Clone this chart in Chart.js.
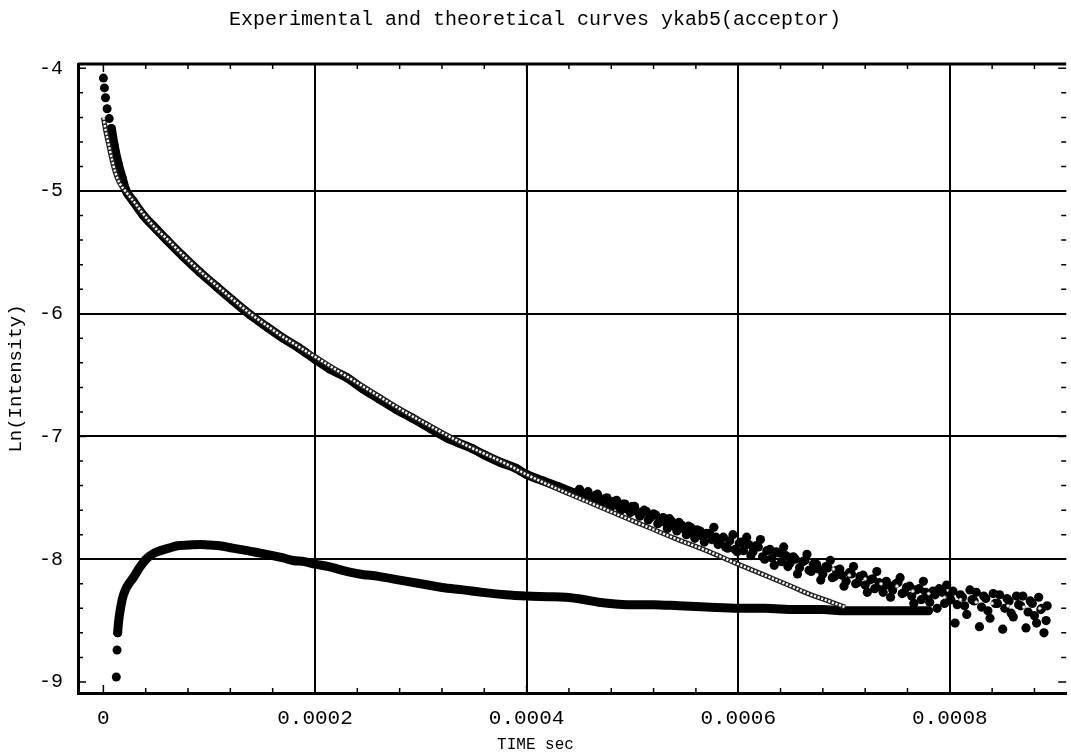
<!DOCTYPE html>
<html>
<head>
<meta charset="utf-8">
<title>ykab5 acceptor</title>
<script src="https://cdn.jsdelivr.net/npm/chart.js@4.4.0/dist/chart.umd.min.js"></script>
<style>
  html, body { margin: 0; padding: 0; background: #fff; }
</style>
</head>
<body>
<canvas id="myChart" width="1071" height="755"></canvas>
<script>
// ln(intensity) vs time for ykab5 (acceptor)

// experimental decay, smooth part (sec / ln I)
var expTime = [0, 1e-6, 2e-6, 3.5e-6, 5.5e-6, 7.5e-6, 1.0e-5, 1.4e-5, 1.8e-5, 2.1e-5,
  2.8e-5, 3.8e-5, 5.0e-5, 6.0e-5, 7.5e-5, 9.1e-5, 1.07e-4, 1.22e-4, 1.39e-4, 1.55e-4,
  1.70e-4, 1.85e-4, 2.0e-4, 2.14e-4, 2.30e-4, 2.45e-4, 2.60e-4, 2.77e-4, 2.92e-4, 3.10e-4,
  3.27e-4, 3.35e-4, 3.49e-4, 3.60e-4, 3.75e-4, 3.90e-4, 4.0e-4, 4.15e-4, 4.30e-4, 4.45e-4];
var expLn = [-4.08, -4.16, -4.24, -4.33, -4.41, -4.49, -4.62, -4.78, -4.90, -4.99,
  -5.08, -5.20, -5.31, -5.40, -5.53, -5.66, -5.78, -5.89, -6.01, -6.11,
  -6.20, -6.28, -6.37, -6.45, -6.52, -6.61, -6.69, -6.78, -6.85, -6.94,
  -7.02, -7.05, -7.10, -7.15, -7.21, -7.26, -7.31, -7.36, -7.41, -7.46];

// experimental decay, noisy tail (two passes of reading)
var tailTime = [4.50e-4, 4.54e-4, 4.58e-4, 4.63e-4, 4.67e-4, 4.71e-4, 4.76e-4, 4.80e-4, 4.85e-4, 4.89e-4,
  4.93e-4, 4.98e-4, 5.02e-4, 5.07e-4, 5.11e-4, 5.15e-4, 5.20e-4, 5.24e-4, 5.29e-4, 5.33e-4,
  5.37e-4, 5.42e-4, 5.46e-4, 5.51e-4, 5.55e-4, 5.59e-4, 5.64e-4, 5.68e-4, 5.73e-4, 5.77e-4,
  5.81e-4, 5.86e-4, 5.90e-4, 5.95e-4, 5.99e-4, 6.03e-4, 6.08e-4, 6.12e-4, 6.17e-4, 6.21e-4,
  6.25e-4, 6.30e-4, 6.34e-4, 6.39e-4, 6.43e-4, 6.47e-4, 6.52e-4, 6.56e-4, 6.61e-4, 6.65e-4,
  6.69e-4, 6.74e-4, 6.78e-4, 6.83e-4, 6.87e-4, 6.91e-4, 6.96e-4, 7.00e-4, 7.05e-4, 7.09e-4,
  7.13e-4, 7.18e-4, 7.22e-4, 7.27e-4, 7.31e-4, 7.35e-4, 7.40e-4, 7.44e-4, 7.49e-4, 7.53e-4,
  7.57e-4, 7.62e-4, 7.66e-4, 7.71e-4, 7.75e-4, 7.79e-4, 7.84e-4, 7.88e-4, 7.93e-4, 7.97e-4,
  8.01e-4, 8.05e-4, 8.10e-4, 8.14e-4, 8.19e-4, 8.23e-4, 8.28e-4, 8.32e-4, 8.36e-4, 8.41e-4,
  8.45e-4, 8.50e-4, 8.54e-4, 8.58e-4, 8.63e-4, 8.67e-4, 8.72e-4, 8.76e-4, 8.80e-4, 8.84e-4,
  8.87e-4, 8.89e-4, 8.91e-4, 8.92e-4];
var tailLn = [-7.43, -7.49, -7.45, -7.52, -7.47, -7.55, -7.50, -7.57, -7.52, -7.60,
  -7.55, -7.62, -7.57, -7.65, -7.60, -7.68, -7.63, -7.71, -7.66, -7.75,
  -7.69, -7.77, -7.72, -7.80, -7.74, -7.83, -7.77, -7.86, -7.79, -7.74,
  -7.88, -7.82, -7.91, -7.80, -7.94, -7.86, -7.82, -7.97, -7.89, -7.84,
  -8.00, -7.92, -8.05, -7.95, -7.90, -8.06, -7.98, -8.12, -8.02, -7.96,
  -8.10, -8.04, -8.17, -8.06, -8.01, -8.14, -8.08, -8.22, -8.11, -8.06,
  -8.19, -8.13, -8.27, -8.16, -8.10, -8.23, -8.18, -8.31, -8.20, -8.15,
  -8.27, -8.22, -8.36, -8.24, -8.18, -8.30, -8.26, -8.40, -8.27, -8.21,
  -8.33, -8.52, -8.29, -8.38, -8.25, -8.34, -8.55, -8.30, -8.42, -8.28,
  -8.36, -8.57, -8.32, -8.44, -8.30, -8.38, -8.56, -8.34, -8.46, -8.31,
  -8.40, -8.60, -8.50, -8.38];
var tail2Time = [4.52e-4, 4.56e-4, 4.60e-4, 4.65e-4, 4.69e-4, 4.73e-4, 4.78e-4, 4.82e-4, 4.87e-4, 4.91e-4,
  4.95e-4, 5.00e-4, 5.04e-4, 5.09e-4, 5.13e-4, 5.17e-4, 5.22e-4, 5.26e-4, 5.31e-4, 5.35e-4,
  5.39e-4, 5.44e-4, 5.48e-4, 5.53e-4, 5.57e-4, 5.61e-4, 5.66e-4, 5.70e-4, 5.75e-4, 5.79e-4,
  5.83e-4, 5.88e-4, 5.92e-4, 5.97e-4, 6.01e-4, 6.05e-4, 6.10e-4, 6.14e-4, 6.19e-4, 6.23e-4,
  6.27e-4, 6.32e-4, 6.36e-4, 6.41e-4, 6.45e-4, 6.49e-4, 6.54e-4, 6.58e-4, 6.63e-4, 6.67e-4,
  6.71e-4, 6.76e-4, 6.80e-4, 6.85e-4, 6.89e-4, 6.93e-4, 6.98e-4, 7.02e-4, 7.07e-4, 7.11e-4,
  7.15e-4, 7.20e-4, 7.24e-4, 7.29e-4, 7.33e-4, 7.37e-4, 7.42e-4, 7.46e-4, 7.51e-4, 7.55e-4,
  7.59e-4, 7.64e-4, 7.68e-4, 7.73e-4, 7.77e-4, 7.81e-4, 7.86e-4, 7.90e-4, 7.95e-4, 7.99e-4,
  8.03e-4, 8.07e-4, 8.12e-4, 8.16e-4, 8.21e-4, 8.25e-4, 8.30e-4, 8.34e-4, 8.38e-4, 8.43e-4,
  8.47e-4, 8.52e-4, 8.56e-4, 8.60e-4, 8.65e-4, 8.69e-4, 8.74e-4, 8.78e-4, 8.82e-4, 8.86e-4];
var tail2Ln = [-7.46, -7.48, -7.50, -7.48, -7.53, -7.51, -7.55, -7.53, -7.57, -7.55,
  -7.59, -7.57, -7.61, -7.63, -7.61, -7.66, -7.64, -7.68, -7.70, -7.67,
  -7.73, -7.70, -7.75, -7.73, -7.79, -7.76, -7.81, -7.79, -7.84, -7.82,
  -7.85, -7.90, -7.85, -7.92, -7.87, -7.93, -7.88, -7.94, -7.90, -7.98,
  -7.93, -7.99, -7.94, -8.02, -7.97, -8.03, -8.00, -8.07, -8.01, -8.09,
  -8.04, -8.08, -8.12, -8.07, -8.15, -8.09, -8.13, -8.18, -8.12, -8.20,
  -8.14, -8.21, -8.17, -8.24, -8.19, -8.27, -8.21, -8.25, -8.19, -8.28,
  -8.23, -8.30, -8.25, -8.33, -8.27, -8.35, -8.29, -8.24, -8.36, -8.30,
  -8.26, -8.37, -8.31, -8.45, -8.33, -8.27, -8.39, -8.32, -8.48, -8.36,
  -8.29, -8.40, -8.34, -8.47, -8.37, -8.30, -8.43, -8.36, -8.52, -8.41];

// theoretical curve
var theoTime = [0, 2e-6, 5e-6, 8e-6, 1.1e-5, 1.5e-5, 2.26e-5, 3.0e-5, 3.8e-5, 5.0e-5,
  6.0e-5, 7.5e-5, 9.1e-5, 1.07e-4, 1.22e-4, 1.39e-4, 1.55e-4, 1.70e-4, 1.85e-4, 2.0e-4,
  2.15e-4, 2.30e-4, 2.45e-4, 2.60e-4, 2.77e-4, 2.95e-4, 3.10e-4, 3.27e-4, 3.45e-4, 3.60e-4,
  3.80e-4, 4.0e-4, 4.30e-4, 4.60e-4, 4.90e-4, 5.15e-4, 5.40e-4, 5.70e-4, 5.97e-4, 6.25e-4,
  6.50e-4, 6.66e-4, 6.85e-4, 7.01e-4];
var theoLn = [-4.40, -4.50, -4.62, -4.74, -4.84, -4.93, -5.02, -5.10, -5.19, -5.31,
  -5.39, -5.52, -5.65, -5.77, -5.88, -6.00, -6.10, -6.19, -6.27, -6.35,
  -6.43, -6.51, -6.59, -6.67, -6.76, -6.85, -6.92, -7.00, -7.08, -7.14,
  -7.22, -7.31, -7.43, -7.54, -7.65, -7.74, -7.83, -7.93, -8.03, -8.13,
  -8.22, -8.28, -8.34, -8.39];

// light specks inside the noisy tail
var speckTime = [6.9e-4, 7.05e-4, 7.2e-4, 7.35e-4, 7.5e-4, 7.65e-4, 7.8e-4, 7.95e-4, 8.1e-4, 8.25e-4, 8.4e-4, 8.55e-4, 8.7e-4, 8.85e-4];
var speckLn = [-8.08, -8.13, -8.16, -8.20, -8.22, -8.26, -8.28, -8.31, -8.33, -8.35, -8.36, -8.38, -8.39, -8.40];

// lower curve (rise then slow decay)
var lowTime = [1.22e-5, 1.29e-5, 1.35e-5, 1.45e-5, 1.6e-5, 1.8e-5, 2.07e-5, 2.4e-5, 2.83e-5, 3.4e-5,
  4.15e-5, 4.8e-5, 5.4e-5, 6.2e-5, 7.0e-5, 8.0e-5, 9.14e-5, 1.0e-4, 1.1e-4, 1.22e-4,
  1.36e-4, 1.48e-4, 1.6e-4, 1.7e-4, 1.79e-4, 1.9e-4, 2.0e-4, 2.13e-4, 2.26e-4, 2.42e-4,
  2.6e-4, 2.8e-4, 3.0e-4, 3.2e-4, 3.4e-4, 3.58e-4, 3.8e-4, 4.0e-4, 4.2e-4, 4.37e-4,
  4.55e-4, 4.68e-4, 4.96e-4, 5.2e-4, 5.44e-4, 5.7e-4, 6.0e-4, 6.25e-4, 6.54e-4, 6.8e-4,
  7.01e-4, 7.3e-4, 7.55e-4, 7.8e-4];
var lowLn = [-8.96, -8.74, -8.60, -8.50, -8.41, -8.32, -8.25, -8.20, -8.15, -8.07,
  -7.99, -7.95, -7.93, -7.91, -7.89, -7.885, -7.88, -7.885, -7.89, -7.91,
  -7.93, -7.95, -7.97, -7.99, -8.01, -8.02, -8.04, -8.06, -8.09, -8.12,
  -8.14, -8.17, -8.20, -8.23, -8.25, -8.27, -8.29, -8.30, -8.305, -8.31,
  -8.33, -8.35, -8.37, -8.37, -8.38, -8.39, -8.40, -8.40, -8.41, -8.41,
  -8.42, -8.42, -8.42, -8.42];

var xTicks = [0, 0.0002, 0.0004, 0.0006, 0.0008];
var yTicks = [-9, -8, -7, -6, -5, -4];

function pts(ts, ys) {
  return ts.map(function (t, i) { return { x: t, y: ys[i] }; });
}

var mono = 'Liberation Mono, Courier New, monospace';
var hidden = 'rgba(0,0,0,0)';

// inward minor ticks, top frame line and the x axis caption
var frameTicks = {
  id: 'frameTicks',
  afterDraw: function (chart) {
    var ctx = chart.ctx, a = chart.chartArea;
    var xs = chart.scales.x, ys = chart.scales.y;
    ctx.save();
    ctx.strokeStyle = '#000';
    ctx.lineWidth = 1.5;
    ctx.beginPath();
    for (var i = 0; i <= 22; i++) {
      var px = xs.getPixelForValue(i * 0.00004);
      var len = i % 5 === 0 ? 8 : 5;
      ctx.moveTo(px, a.bottom); ctx.lineTo(px, a.bottom - len);
      ctx.moveTo(px, a.top); ctx.lineTo(px, a.top + len);
    }
    for (var j = 0; j <= 25; j++) {
      var py = ys.getPixelForValue(-9 + j * 0.2);
      var l2 = j % 5 === 0 ? 8 : 5;
      ctx.moveTo(a.left, py); ctx.lineTo(a.left + l2, py);
      ctx.moveTo(a.right, py); ctx.lineTo(a.right - l2, py);
    }
    ctx.stroke();
    ctx.lineWidth = 3;
    ctx.beginPath();
    ctx.moveTo(a.left, a.top); ctx.lineTo(a.right, a.top);
    ctx.stroke();

    ctx.fillStyle = '#000';
    ctx.font = '16px ' + mono;
    ctx.textAlign = 'center';
    ctx.textBaseline = 'middle';
    ctx.fillText('TIME sec', chart.width / 2, 745);
    ctx.restore();
  }
};

var myChart = new Chart(document.getElementById('myChart'), {
  type: 'scatter',
  data: {
    datasets: [
      {
        label: 'specks', data: pts(speckTime, speckLn), order: 0,
        pointRadius: 1.6, pointBackgroundColor: '#fff', pointBorderColor: '#888', pointBorderWidth: 0.8
      },
      {
        label: 'theory', data: pts(theoTime, theoLn), order: 1, showLine: true,
        borderColor: '#fff', borderWidth: 2.4, borderDash: [2.2, 1.6], pointRadius: 0,
        cubicInterpolationMode: 'monotone'
      },
      {
        label: 'theory outline', data: pts(theoTime, theoLn), order: 2, showLine: true,
        borderColor: '#222', borderWidth: 5, pointRadius: 0,
        cubicInterpolationMode: 'monotone'
      },
      {
        label: 'experiment', data: pts(expTime, expLn), order: 3, showLine: true,
        borderColor: '#000', borderWidth: 9, borderCapStyle: 'round', borderJoinStyle: 'round',
        pointRadius: 4.5, pointBackgroundColor: '#000', pointBorderWidth: 0,
        cubicInterpolationMode: 'monotone',
        segment: { borderColor: function (c) { return c.p0DataIndex < 5 ? hidden : '#000'; } }
      },
      {
        label: 'experiment tail', data: pts(tailTime, tailLn), order: 3,
        pointRadius: 4.6, pointBackgroundColor: '#000', pointBorderWidth: 0
      },
      {
        label: 'experiment tail 2', data: pts(tail2Time, tail2Ln), order: 3,
        pointRadius: 4.6, pointBackgroundColor: '#000', pointBorderWidth: 0
      },
      {
        label: 'lower', data: pts(lowTime, lowLn), order: 3, showLine: true,
        borderColor: '#000', borderWidth: 9, borderCapStyle: 'round', borderJoinStyle: 'round',
        pointRadius: function (c) { return c.dataIndex < 3 ? 4.5 : 0; },
        pointBackgroundColor: '#000', pointBorderWidth: 0,
        cubicInterpolationMode: 'monotone',
        segment: { borderColor: function (c) { return c.p0DataIndex < 2 ? hidden : '#000'; } }
      }
    ]
  },
  options: {
    responsive: false,
    animation: false,
    devicePixelRatio: 1,
    layout: { padding: { left: 0, right: 1, top: 0, bottom: 0 } },
    plugins: {
      legend: { display: false },
      tooltip: { enabled: false },
      title: {
        display: true,
        text: 'Experimental and theoretical curves ykab5(acceptor)',
        color: '#000',
        font: { family: mono, size: 20, weight: 'normal' },
        padding: { top: 8, bottom: 32 }
      }
    },
    scales: {
      x: {
        type: 'linear', min: -0.000024, max: 0.00091,
        afterBuildTicks: function (s) { s.ticks = xTicks.map(function (v) { return { value: v }; }); },
        afterFit: function (s) { s.height = 62; },
        ticks: {
          color: '#000', font: { family: mono, size: 21 }, padding: 13, maxRotation: 0,
          callback: function (v) { return v === 0 ? '0' : v.toFixed(4); }
        },
        grid: {
          drawTicks: false, lineWidth: 2,
          color: function (c) { return c.tick && c.tick.value === 0 ? hidden : '#000'; }
        },
        border: { display: true, color: '#000', width: 3 }
      },
      y: {
        type: 'linear', min: -9.09, max: -3.965,
        afterBuildTicks: function (s) { s.ticks = yTicks.map(function (v) { return { value: v }; }); },
        afterFit: function (s) { s.width = 78; },
        ticks: {
          color: '#000', font: { family: mono, size: 20 }, padding: 15,
          callback: function (v) { return String(v); }
        },
        grid: {
          drawTicks: false, lineWidth: 2,
          color: function (c) { return c.tick && (c.tick.value === -4 || c.tick.value === -9) ? hidden : '#000'; }
        },
        border: { display: true, color: '#000', width: 3 },
        title: { display: true, text: 'Ln(Intensity)', color: '#000', font: { family: mono, size: 19 }, padding: { top: 5, bottom: 0 } }
      }
    }
  },
  plugins: [frameTicks]
});
</script>
</body>
</html>
